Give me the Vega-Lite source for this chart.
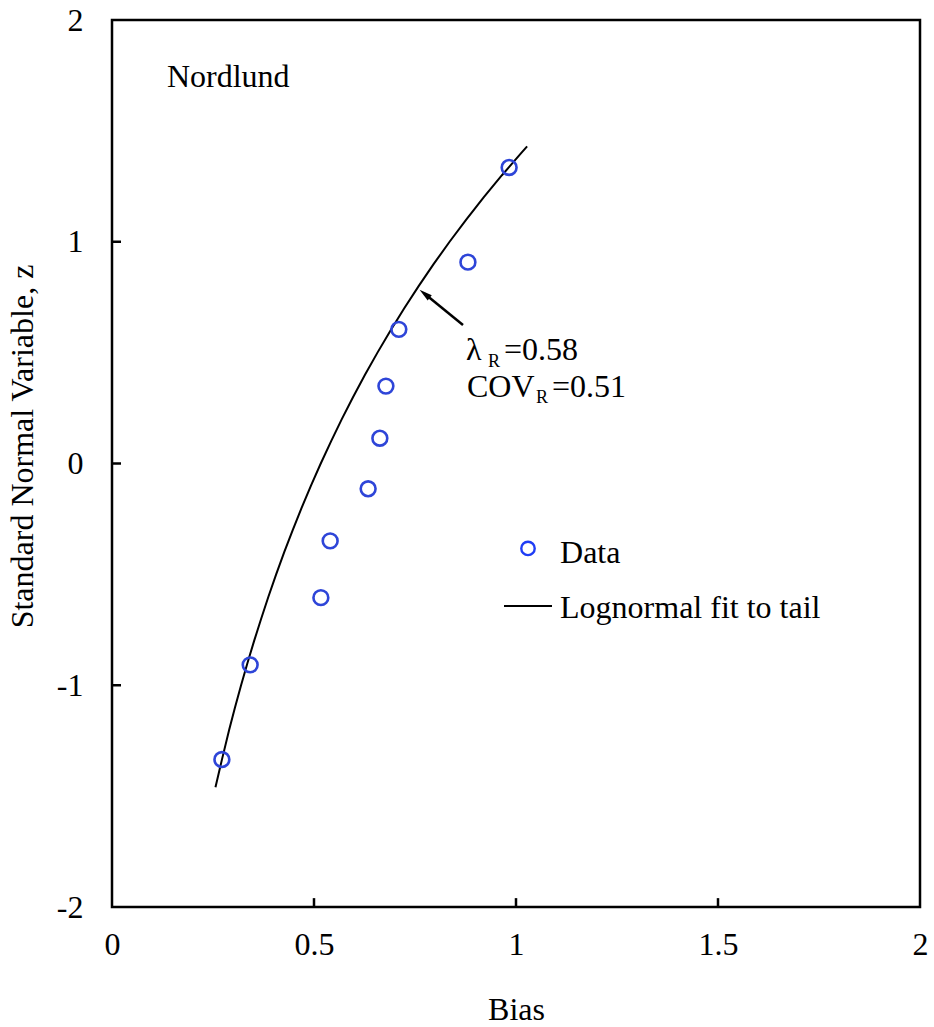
{
  "$schema": "https://vega.github.io/schema/vega-lite/v6.json",
  "width": 808,
  "height": 887,
  "autosize": {"type": "none"},
  "padding": {"left": 112, "top": 20, "right": 14, "bottom": 120},
  "config": {
    "view": {"stroke": "#000000", "strokeWidth": 2.5},
    "font": "Liberation Serif",
    "axis": {
      "labelFont": "Liberation Serif",
      "titleFont": "Liberation Serif",
      "labelFontSize": 32,
      "titleFontSize": 32,
      "labelColor": "#000000",
      "titleColor": "#000000",
      "titleFontWeight": "normal",
      "labelFlush": false,
      "labelOverlap": false,
      "domain": false,
      "grid": false,
      "ticks": false
    }
  },
  "datasets": {
    "pts": [
      {"x": 0.272, "z": -1.335},
      {"x": 0.342, "z": -0.908},
      {"x": 0.517, "z": -0.605},
      {"x": 0.54, "z": -0.349},
      {"x": 0.634, "z": -0.114},
      {"x": 0.663, "z": 0.114},
      {"x": 0.678, "z": 0.349},
      {"x": 0.71, "z": 0.605},
      {"x": 0.881, "z": 0.908},
      {"x": 0.983, "z": 1.335}
    ],
    "fit": [
      {"x": 0.2561, "z": -1.46},
      {"x": 0.2715, "z": -1.34},
      {"x": 0.2902, "z": -1.2},
      {"x": 0.3044, "z": -1.1},
      {"x": 0.3195, "z": -1.0},
      {"x": 0.3353, "z": -0.9},
      {"x": 0.3518, "z": -0.8},
      {"x": 0.3692, "z": -0.7},
      {"x": 0.3873, "z": -0.6},
      {"x": 0.4063, "z": -0.5},
      {"x": 0.4263, "z": -0.4},
      {"x": 0.4473, "z": -0.3},
      {"x": 0.4693, "z": -0.2},
      {"x": 0.4925, "z": -0.1},
      {"x": 0.5167, "z": 0.0},
      {"x": 0.5422, "z": 0.1},
      {"x": 0.5688, "z": 0.2},
      {"x": 0.5968, "z": 0.3},
      {"x": 0.6262, "z": 0.4},
      {"x": 0.6571, "z": 0.5},
      {"x": 0.6894, "z": 0.6},
      {"x": 0.7234, "z": 0.7},
      {"x": 0.759, "z": 0.8},
      {"x": 0.7964, "z": 0.9},
      {"x": 0.8356, "z": 1.0},
      {"x": 0.8768, "z": 1.1},
      {"x": 0.9199, "z": 1.2},
      {"x": 0.9652, "z": 1.3},
      {"x": 1.0127, "z": 1.4},
      {"x": 1.0275, "z": 1.43}
    ],
    "xTicks": [{"v": 0.5}, {"v": 1}, {"v": 1.5}],
    "yTicks": [{"v": -1}, {"v": 0}, {"v": 1}],
    "mainText": [
      {"x": 0.136, "z": 1.698, "label": "Nordlund"},
      {"x": 0.8762, "z": 0.4667, "label": "λ"},
      {"x": 0.9703, "z": 0.4667, "label": "=0.58"},
      {"x": 0.8787, "z": 0.3, "label": "COV"},
      {"x": 1.0891, "z": 0.3, "label": "=0.51"},
      {"x": 1.109, "z": -0.449, "label": "Data"},
      {"x": 1.109, "z": -0.697, "label": "Lognormal fit to tail"}
    ],
    "subText": [
      {"x": 0.9307, "z": 0.435, "label": "R"},
      {"x": 1.0495, "z": 0.273, "label": "R"}
    ],
    "arrow": [
      {"x": 0.8688, "z": 0.6246, "x2": 0.7739, "z2": 0.7653}
    ],
    "arrowHead": [
      {"x": 0.7739, "z": 0.7653}
    ],
    "legendPt": [
      {"x": 1.0297, "z": -0.383}
    ],
    "legendLine": [
      {"x": 0.9703, "z": -0.6426, "x2": 1.0891}
    ]
  },
  "layer": [
    {
      "data": {"name": "fit"},
      "mark": {"type": "line", "color": "#000000", "strokeWidth": 2, "clip": true},
      "encoding": {
        "x": {
          "field": "x", "type": "quantitative",
          "scale": {"domain": [0, 2], "nice": false, "zero": false},
          "axis": {
            "values": [0, 0.5, 1, 1.5, 2],
            "labelExpr": "'' + datum.value",
            "labelPadding": 22,
            "title": "Bias",
            "titlePadding": 34
          }
        },
        "y": {
          "field": "z", "type": "quantitative",
          "scale": {"domain": [-2, 2], "nice": false, "zero": false},
          "axis": {
            "values": [-2, -1, 0, 1, 2],
            "labelExpr": "'' + datum.value",
            "labelPadding": 29,
            "title": "Standard Normal Variable, z",
            "titlePadding": 17,
            "titleY": 426
          }
        },
        "order": {"field": "z", "type": "quantitative"}
      }
    },
    {
      "data": {"name": "xTicks"},
      "mark": {"type": "rule", "color": "#000000", "strokeWidth": 2.5},
      "encoding": {
        "x": {"field": "v", "type": "quantitative"},
        "y": {"datum": -2},
        "y2": {"datum": -1.96}
      }
    },
    {
      "data": {"name": "yTicks"},
      "mark": {"type": "rule", "color": "#000000", "strokeWidth": 2.5},
      "encoding": {
        "y": {"field": "v", "type": "quantitative"},
        "x": {"datum": 0},
        "x2": {"datum": 0.0223}
      }
    },
    {
      "data": {"name": "pts"},
      "mark": {"type": "point", "shape": "circle", "filled": false, "stroke": "#2e45d8", "strokeWidth": 2.6, "size": 220, "opacity": 1},
      "encoding": {
        "x": {"field": "x", "type": "quantitative"},
        "y": {"field": "z", "type": "quantitative"}
      }
    },
    {
      "data": {"name": "legendPt"},
      "mark": {"type": "point", "shape": "circle", "filled": false, "stroke": "#1f3df5", "strokeWidth": 2.4, "size": 180, "opacity": 1},
      "encoding": {
        "x": {"field": "x", "type": "quantitative"},
        "y": {"field": "z", "type": "quantitative"}
      }
    },
    {
      "data": {"name": "legendLine"},
      "mark": {"type": "rule", "color": "#000000", "strokeWidth": 2},
      "encoding": {
        "x": {"field": "x", "type": "quantitative"},
        "x2": {"field": "x2"},
        "y": {"field": "z", "type": "quantitative"}
      }
    },
    {
      "data": {"name": "arrow"},
      "mark": {"type": "rule", "color": "#000000", "strokeWidth": 2.5},
      "encoding": {
        "x": {"field": "x", "type": "quantitative"},
        "x2": {"field": "x2"},
        "y": {"field": "z", "type": "quantitative"},
        "y2": {"field": "z2"}
      }
    },
    {
      "data": {"name": "arrowHead"},
      "mark": {"type": "point", "shape": "M0,-1L0.5,1L-0.5,1Z", "filled": true, "color": "#000000", "size": 170, "angle": 309, "opacity": 1},
      "encoding": {
        "x": {"field": "x", "type": "quantitative"},
        "y": {"field": "z", "type": "quantitative"}
      }
    },
    {
      "data": {"name": "mainText"},
      "mark": {"type": "text", "font": "Liberation Serif", "fontSize": 32, "align": "left", "baseline": "alphabetic", "color": "#000000"},
      "encoding": {
        "x": {"field": "x", "type": "quantitative"},
        "y": {"field": "z", "type": "quantitative"},
        "text": {"field": "label"}
      }
    },
    {
      "data": {"name": "subText"},
      "mark": {"type": "text", "font": "Liberation Serif", "fontSize": 18, "align": "left", "baseline": "alphabetic", "color": "#000000"},
      "encoding": {
        "x": {"field": "x", "type": "quantitative"},
        "y": {"field": "z", "type": "quantitative"},
        "text": {"field": "label"}
      }
    }
  ]
}
